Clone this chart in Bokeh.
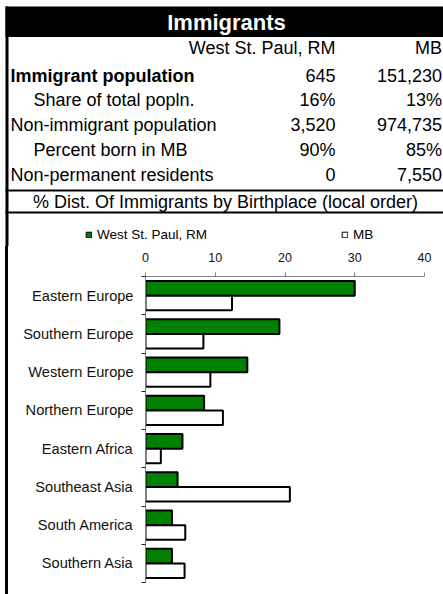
from bokeh.plotting import figure
from bokeh.models import Range1d, FixedTicker, Legend, LegendItem, ColumnDataSource, Spacer
from bokeh.transform import dodge
from bokeh.layouts import column, row
from bokeh.core.properties import value
from bokeh.embed import file_html
from bokeh.resources import INLINE

# ---------------- data ----------------
title = "Immigrants"
col_headers = ["West St. Paul, RM", "MB"]
row_labels = ["Immigrant population", "Share of total popln.", "Non-immigrant population",
              "Percent born in MB", "Non-permanent residents"]
local_vals = ["645", "16%", "3,520", "90%", "0"]
mb_vals = ["151,230", "13%", "974,735", "85%", "7,550"]
chart_title = "% Dist. Of Immigrants by Birthplace (local order)"

categories = ["Eastern Europe", "Southern Europe", "Western Europe", "Northern Europe",
              "Eastern Africa", "Southeast Asia", "South America", "Southern Asia"]
local_pct = [30.0, 19.2, 14.6, 8.4, 5.3, 4.6, 3.8, 3.8]
mb_pct = [12.4, 8.3, 9.3, 11.1, 2.2, 20.7, 5.7, 5.6]
x_ticks = [0, 10, 20, 30, 40]

FONT = "Liberation Sans"
GREEN = "#008000"
NAN = float("nan")

W, H = 443, 594

# ---------------- table + legend (top) ----------------
TOP_H = 246
top = figure(width=W, height=TOP_H, x_range=Range1d(0, W), y_range=Range1d(TOP_H, 0),
             output_backend="svg", toolbar_location=None, min_border=0,
             x_axis_type=None, y_axis_type=None, outline_line_color=None)
top.grid.visible = False

top.quad(left=5, right=W, top=6, bottom=36.5, fill_color="black", line_color=None)
top.quad(left=5, right=8, top=6, bottom=TOP_H, fill_color="black", line_color=None)
top.segment(x0=[5, 5], x1=[W, W], y0=[190, 212], y1=[190, 212],
            line_color="black", line_width=2)

top.text(x=[226], y=[21.5], text=[title], text_font=value(FONT), text_font_style="bold",
         text_color="white", text_align="center", text_baseline="middle", text_font_size="22px")

TS = "18px"
top.text(x=[335, 441.5], y=[47.5, 47.5], text=col_headers, text_font=value(FONT),
         text_align="right", text_baseline="middle", text_font_size=TS, text_color="black")

row_y = [75, 99.3, 124.2, 149.2, 174.2]
indent = [10, 33, 10, 33, 10]
styles = ["bold", "normal", "normal", "normal", "normal"]
for lab, yy, xx, st in zip(row_labels, row_y, indent, styles):
    top.text(x=[xx], y=[yy], text=[lab], text_font=value(FONT), text_font_style=st,
             text_align="left", text_baseline="middle", text_font_size=TS, text_color="black")
top.text(x=[335] * len(local_vals), y=row_y, text=local_vals, text_font=value(FONT),
         text_align="right", text_baseline="middle", text_font_size=TS, text_color="black")
top.text(x=[441.5] * len(mb_vals), y=row_y, text=mb_vals, text_font=value(FONT),
         text_align="right", text_baseline="middle", text_font_size=TS, text_color="black")

top.text(x=[225], y=[201], text=[chart_title], text_font=value(FONT),
         text_align="center", text_baseline="middle", text_font_size=TS, text_color="black")

# legend entries (same styling as the bars below; NaN so nothing is drawn here)
lg1 = top.hbar(y=[NAN], right=[NAN], height=1, fill_color=GREEN, line_color="black", line_width=1)
lg2 = top.hbar(y=[NAN], right=[NAN], height=1, fill_color="white", line_color="black", line_width=1)
legend = Legend(items=[LegendItem(label=col_headers[0], renderers=[lg1]),
                       LegendItem(label=col_headers[1], renderers=[lg2])],
                orientation="horizontal", location=(85, 4.5), padding=0, margin=0,
                spacing=134, glyph_width=7, glyph_height=7, label_standoff=5,
                label_height=14, label_text_font=FONT, label_text_font_size="13.5px",
                label_text_color="black", label_text_baseline="middle",
                border_line_color=None, background_fill_alpha=0)
top.add_layout(legend, "center")

# ---------------- bar chart (bottom) ----------------
BOT_H = H - TOP_H
n = len(categories)
centers = [n - i - 0.5 for i in range(n)]
src = ColumnDataSource(dict(cat=categories, y=centers, local=local_pct, mb=mb_pct))

p = figure(width=W - 8, height=BOT_H, x_range=Range1d(0, 40), y_range=Range1d(0, n),
           x_axis_location="above", output_backend="svg", toolbar_location=None,
           min_border_left=137, min_border_right=19, min_border_top=30, min_border_bottom=12,
           outline_line_color=None)
p.grid.visible = False

r1 = p.hbar(y=dodge("y", 0.19), left=0, right="local", height=0.38, source=src,
            fill_color=GREEN, line_color="black", line_width=2)
r2 = p.hbar(y=dodge("y", -0.19), left=0, right="mb", height=0.38, source=src,
            fill_color="white", line_color="black", line_width=2)

xa = p.xaxis[0]
xa.ticker = FixedTicker(ticks=x_ticks)
xa.axis_line_color = "#808080"
xa.major_tick_line_color = "#808080"
xa.major_tick_out = 4
xa.major_tick_in = 0
xa.minor_tick_line_color = None
xa.major_label_text_font = FONT
xa.major_label_text_font_size = "12.5px"
xa.major_label_text_color = "#111111"
xa.major_label_standoff = 11

ya = p.yaxis[0]
ya.ticker = FixedTicker(ticks=centers, minor_ticks=list(range(n + 1)))
ya.major_label_overrides = {c: name for c, name in zip(centers, categories)}
ya.axis_line_color = "#808080"
ya.major_tick_line_color = None
ya.major_tick_out = 0
ya.major_tick_in = 0
ya.minor_tick_line_color = "#222222"
ya.minor_tick_out = 4
ya.minor_tick_in = 0
ya.major_label_text_font = FONT
ya.major_label_text_font_size = "14.6px"
ya.major_label_text_color = "#111111"
ya.major_label_standoff = 8

border = Spacer(width=3, height=BOT_H, styles={"background-color": "black"})
layout = column(top, row(Spacer(width=5, height=BOT_H), border, p))

open("out.html", "w").write(file_html(layout, INLINE))
